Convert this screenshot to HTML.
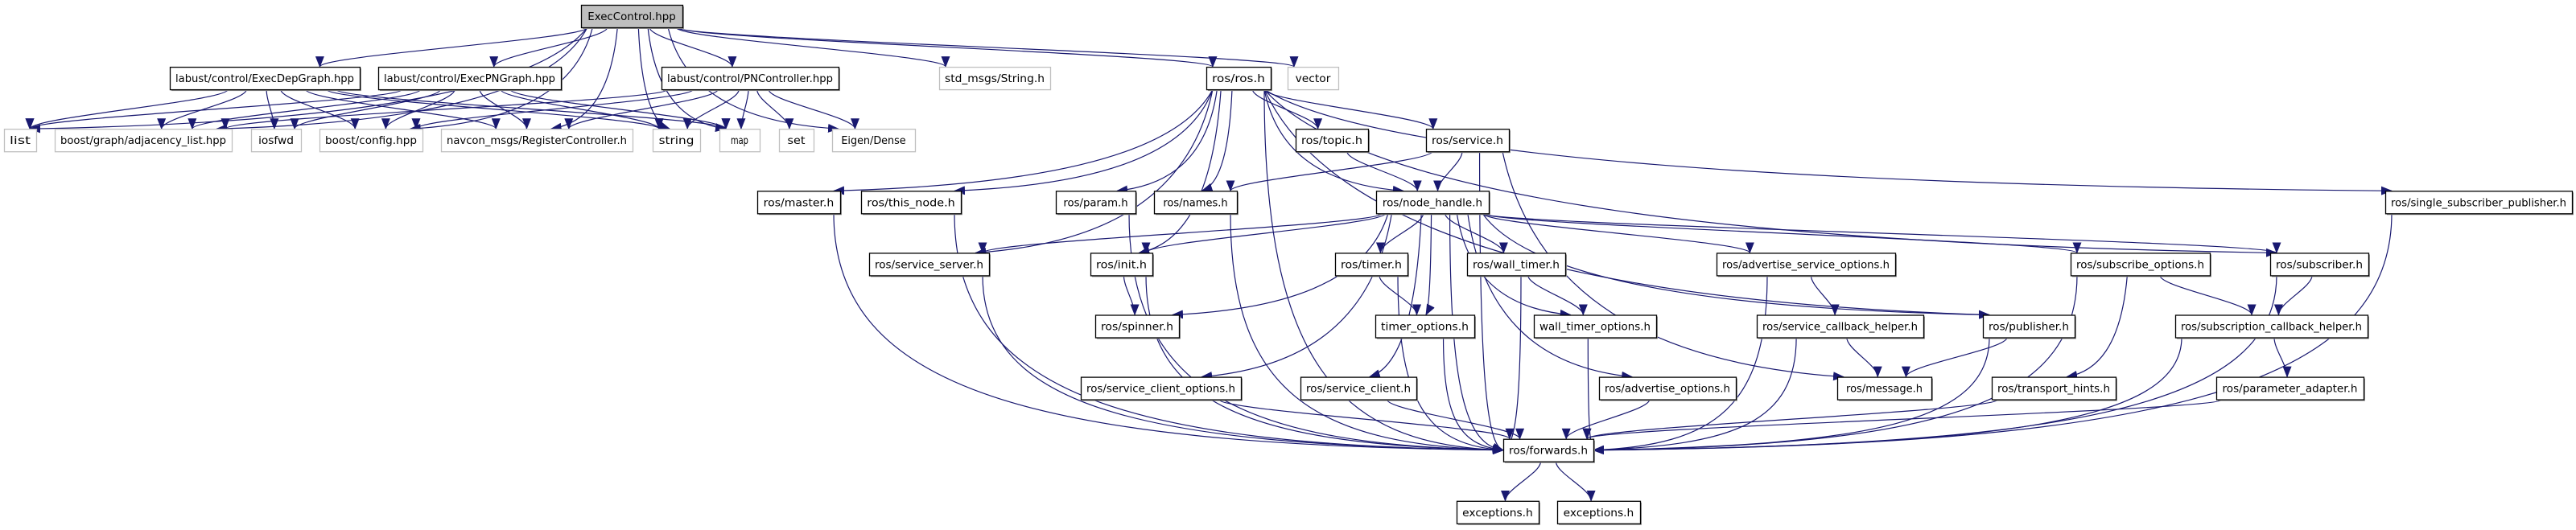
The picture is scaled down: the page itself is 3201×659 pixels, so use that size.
<!DOCTYPE html>
<html><head><meta charset="utf-8">
<style>
html,body{margin:0;padding:0;background:#fff;width:3201px;height:659px;overflow:hidden}
svg{display:block}
text{font-family:"DejaVu Sans","Liberation Sans",sans-serif;font-size:13px;fill:#000}
</style></head>
<body>
<svg id="g" width="3201" height="659" viewBox="0 0 3201 659" xmlns="http://www.w3.org/2000/svg">
<defs>
<marker id="a" markerWidth="14" markerHeight="11" refX="13" refY="5.5" orient="auto" markerUnits="userSpaceOnUse">
<path d="M0,0 L14,5.5 L0,11 z" fill="#191970"/>
</marker>
</defs>
<g id="edges" fill="none" stroke="#191970" stroke-width="1.2"></g>
<g id="nodes"></g>
</svg>
<script>
var R=function(r){return 6+77.1*r;};
var N={
EC:[722,848,0,"ExecControl.hpp","main"],
EDG:[211,447,1,"labust/control/ExecDepGraph.hpp"],
EPG:[470,697,1,"labust/control/ExecPNGraph.hpp"],
PNC:[822,1042,1,"labust/control/PNController.hpp"],
STD:[1167,1305,1,"std_msgs/String.h","g"],
ROS:[1499,1579,1,"ros/ros.h"],
VEC:[1600,1663,1,"vector","g"],
LIST:[5,45,2,"list","g"],
BGA:[68,288,2,"boost/graph/adjacency_list.hpp","g"],
IOS:[312,374,2,"iosfwd","g"],
BCF:[397,525,2,"boost/config.hpp","g"],
NAV:[548,786,2,"navcon_msgs/RegisterController.h","g"],
STR:[811,870,2,"string","g"],
MAP:[894,944,2,"map","g"],
SET:[968,1011,2,"set","g"],
EIG:[1034,1137,2,"Eigen/Dense","g"],
TOP:[1610,1700,2,"ros/topic.h"],
SRV:[1772,1875,2,"ros/service.h"],
MAS:[941,1044,3,"ros/master.h"],
THN:[1070,1194,3,"ros/this_node.h"],
PAR:[1312,1411,3,"ros/param.h"],
NAM:[1434,1537,3,"ros/names.h"],
NH:[1710,1850,3,"ros/node_handle.h"],
SSP:[2964,3196,3,"ros/single_subscriber_publisher.h"],
SS:[1080,1229,4,"ros/service_server.h"],
INIT:[1355,1432,4,"ros/init.h"],
TIM:[1659,1749,4,"ros/timer.h"],
WT:[1823,1945,4,"ros/wall_timer.h"],
ASO:[2133,2355,4,"ros/advertise_service_options.h"],
SUBO:[2573,2746,4,"ros/subscribe_options.h"],
SUB:[2821,2943,4,"ros/subscriber.h"],
SPIN:[1361,1465,5,"ros/spinner.h"],
TO:[1709,1832,5,"timer_options.h"],
WTO:[1906,2058,5,"wall_timer_options.h"],
SCH:[2183,2390,5,"ros/service_callback_helper.h"],
PUB:[2464,2578,5,"ros/publisher.h"],
SUCH:[2703,2942,5,"ros/subscription_callback_helper.h"],
SCO:[1343,1542,6,"ros/service_client_options.h"],
SC:[1616,1760,6,"ros/service_client.h"],
AO:[1987,2157,6,"ros/advertise_options.h"],
MSG:[2283,2400,6,"ros/message.h"],
TH:[2475,2629,6,"ros/transport_hints.h"],
PA:[2754,2937,6,"ros/parameter_adapter.h"],
FWD:[1868,1980,7,"ros/forwards.h"],
EX1:[1810,1912,8,"exceptions.h"],
EX2:[1935,2038,8,"exceptions.h"]
};
var E=[
["EC","LIST"],["EC","BGA"],["EC","BCF"],["EC","EDG"],["EC","EPG"],["EC","PNC"],["EC","NAV"],["EC","STR"],["EC","MAP"],["EC","EIG"],["EC","STD"],["EC","ROS"],["EC","VEC"],
["EDG","LIST"],["EDG","BGA"],["EDG","IOS"],["EDG","BCF"],["EDG","NAV"],["EDG","STR"],["EDG","MAP"],
["EPG","LIST"],["EPG","BGA"],["EPG","IOS"],["EPG","BCF"],["EPG","NAV"],["EPG","STR"],["EPG","MAP"],
["PNC","BGA"],["PNC","BCF"],["PNC","NAV"],["PNC","STR"],["PNC","MAP"],["PNC","SET"],["PNC","EIG"],
["ROS","MAS"],["ROS","THN"],["ROS","SS"],["ROS","PAR"],["ROS","NAM"],["ROS","INIT"],["ROS","TOP"],["ROS","NH"],["ROS","SRV"],["ROS","PUB"],["ROS","SUB"],["ROS","SSP"],["ROS","FWD"],
["TOP","NH"],["SRV","NAM"],["SRV","NH"],["SRV","MSG"],["SRV","FWD"],
["NH","SS"],["NH","INIT"],["NH","SPIN"],["NH","SCO"],["NH","SC"],["NH","TIM"],["NH","TO"],["NH","WT"],["NH","WTO"],["NH","AO"],["NH","ASO"],["NH","PUB"],["NH","SUBO"],["NH","SUB"],["NH","FWD"],
["MAS","FWD"],["THN","FWD"],["PAR","FWD"],["NAM","FWD"],["SS","FWD"],["INIT","SPIN"],["INIT","FWD"],
["TIM","TO"],["TIM","FWD"],["WT","WTO"],["WT","FWD"],["TO","FWD"],["WTO","FWD"],["SCO","FWD"],["SC","FWD"],["AO","FWD"],
["ASO","SCH"],["ASO","FWD"],["SCH","MSG"],["SCH","FWD"],["PUB","MSG"],["PUB","FWD"],["TH","FWD"],
["SUBO","TH"],["SUBO","SUCH"],["SUBO","FWD"],["SUB","SUCH"],["SUB","FWD"],["SUCH","PA"],["SUCH","FWD"],["PA","FWD"],["SSP","FWD"],
["FWD","EX1"],["FWD","EX2"]
];
var H=28,ns="http://www.w3.org/2000/svg";
var eg=document.getElementById("edges"),ng=document.getElementById("nodes");
function el(t,a,p){var e=document.createElementNS(ns,t);for(var k in a)e.setAttribute(k,a[k]);p.appendChild(e);return e;}
E.forEach(function(e){
 var s=N[e[0]],t=N[e[1]];
 var scx=(s[0]+s[1])/2,tcx=(t[0]+t[1])/2;
 var sy=R(s[2])+H,ty=R(t[2]);
 var sx=Math.max(s[0]+8,Math.min(s[1]-8,scx+(tcx-scx)*0.15));
 var tx=Math.max(t[0]+8,Math.min(t[1]-8,tcx+(scx-tcx)*0.15));
 var dy=ty-sy,d;
 if(t[2]-s[2]<=1){
  d="M"+sx+","+sy+" C"+sx+","+(sy+dy*0.3)+" "+tx+","+(ty-dy*0.3)+" "+tx+","+ty;
 } else if(e[1]=="FWD"){
  var side=tcx<scx?t[1]:t[0];
  var ey=ty+14;
  d="M"+sx+","+sy+" C"+sx+","+(sy+(ey-sy)*0.75)+" "+(sx+(side-sx)*0.3)+","+(ey-6)+" "+side+","+ey;
 } else {
  d="M"+sx+","+sy+" C"+(sx+(tx-sx)*0.1)+","+(sy+dy*0.7)+" "+(tx-(tx-sx)*0.5)+","+(ty-dy*0.05)+" "+tx+","+ty;
 }
 el("path",{d:d,"marker-end":"url(#a)"},eg);
});
for(var k in N){var n=N[k],x=n[0],y=R(n[2]),w=n[1]-n[0];
 if(n[4]=="g"){el("rect",{x:x+0.5,y:y+0.5,width:w,height:H,fill:"#fff",stroke:"#bfbfbf","stroke-width":1.3},ng);}
 else{el("rect",{x:x+2,y:y+2,width:w,height:H,fill:"#999",stroke:"none"},ng);
  el("rect",{x:x+0.5,y:y+0.5,width:w,height:H,fill:n[4]=="main"?"#bfbfbf":"#fff",stroke:"#000","stroke-width":1.3},ng);}
 var tl=Math.min(w-14,n[3].length*7.3);
 var t=el("text",{x:x+w/2,y:y+19,"text-anchor":"middle",textLength:tl,lengthAdjust:"spacingAndGlyphs"},ng);
 t.textContent=n[3];
}
</script>
</body></html>
